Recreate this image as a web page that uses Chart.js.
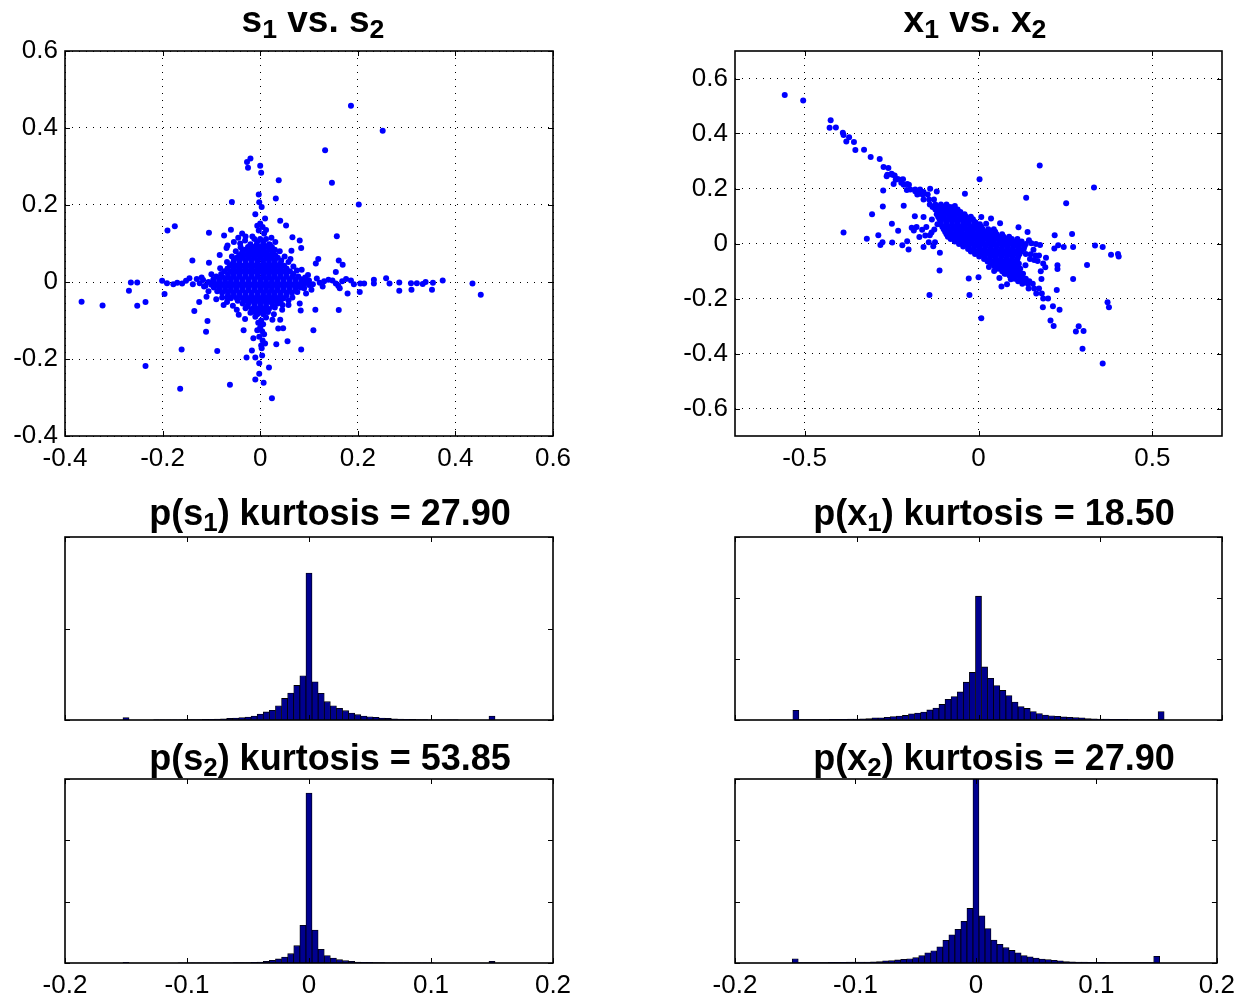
<!DOCTYPE html>
<html>
<head>
<meta charset="utf-8">
<title>Sources vs. mixtures</title>
<script src="https://cdn.jsdelivr.net/npm/chart.js@4.4.0/dist/chart.umd.min.js"></script>
<style>
  html, body { margin: 0; padding: 0; background: #fff; }
  #figure { position: relative; width: 1242px; height: 999px; overflow: hidden; font-family: "Liberation Sans", Arial, Helvetica, sans-serif; }
  #figure canvas { position: absolute; }
  .title { position: absolute; width: 600px; text-align: center; font-weight: bold; font-size: 36px; line-height: 36px; color: #000; white-space: nowrap; z-index: 2; }
  .title.top { font-size: 37px; line-height: 37px; }
  .title sub { font-size: 0.72em; vertical-align: -0.22em; line-height: 0; }
</style>
</head>
<body>
<div id="figure">
  <div class="title top" style="left:13px; top:1px">s<sub>1</sub> vs. s<sub>2</sub></div>
  <div class="title top" style="left:675px; top:1px">x<sub>1</sub> vs. x<sub>2</sub></div>
  <div class="title" style="left:30px; top:495px">p(s<sub>1</sub>) kurtosis = 27.90</div>
  <div class="title" style="left:694px; top:495px">p(x<sub>1</sub>) kurtosis = 18.50</div>
  <div class="title" style="left:30px; top:740px">p(s<sub>2</sub>) kurtosis = 53.85</div>
  <div class="title" style="left:694px; top:740px">p(x<sub>2</sub>) kurtosis = 27.90</div>

  <canvas id="scatterS" width="620" height="460" style="left:0; top:20px"></canvas>
  <canvas id="scatterX" width="582" height="460" style="left:660px; top:20px"></canvas>
  <canvas id="histS1" width="620" height="240" style="left:0; top:500px"></canvas>
  <canvas id="histX1" width="582" height="240" style="left:660px; top:500px"></canvas>
  <canvas id="histS2" width="620" height="254" style="left:0; top:745px"></canvas>
  <canvas id="histX2" width="582" height="254" style="left:660px; top:745px"></canvas>
</div>
<script>
// ---- tick positions ----
const sTicks = [-0.4, -0.2, 0, 0.2, 0.4, 0.6];
const xTicksH = [-0.5, 0, 0.5];
const xTicksV = [-0.6, -0.4, -0.2, 0, 0.2, 0.4, 0.6];
const histTicks = [-0.2, -0.1, 0, 0.1, 0.2];
const s1CountTicks = [0, 500, 1000];
const x1CountTicks = [0, 200, 400, 600];
const s2CountTicks = [0, 500, 1000, 1500];
const x2CountTicks = [0, 200, 400, 600];

// ---- histogram bins (width 0.005, tails collected in the end bins) ----
const binCentres = [
  -0.150, -0.145, -0.140, -0.135, -0.130, -0.125, -0.120, -0.115, -0.110, -0.105,
  -0.100, -0.095, -0.090, -0.085, -0.080, -0.075, -0.070, -0.065, -0.060, -0.055,
  -0.050, -0.045, -0.040, -0.035, -0.030, -0.025, -0.020, -0.015, -0.010, -0.005,
  0.000,
  0.005, 0.010, 0.015, 0.020, 0.025, 0.030, 0.035, 0.040, 0.045, 0.050,
  0.055, 0.060, 0.065, 0.070, 0.075, 0.080, 0.085, 0.090, 0.095, 0.100,
  0.105, 0.110, 0.115, 0.120, 0.125, 0.130, 0.135, 0.140, 0.145, 0.150
];

const s1Counts = [
  13, 0, 0, 0, 0, 1, 1, 1, 1, 1,
  2, 2, 2, 3, 4, 5, 6, 9, 11, 13,
  16, 22, 33, 44, 53, 78, 118, 147, 189, 242,
  803,
  209, 146, 100, 78, 64, 51, 38, 29, 22, 18,
  15, 11, 9, 7, 5, 4, 3, 2, 2, 1,
  1, 1, 1, 1, 0, 0, 0, 0, 0, 22
];

const x1Counts = [
  32, 1, 1, 1, 1, 1, 2, 2, 2, 3,
  3, 4, 5, 7, 7, 9, 11, 13, 15, 20,
  23, 26, 33, 39, 51, 68, 77, 92, 124, 156,
  406,
  174, 137, 113, 97, 80, 59, 44, 38, 28, 21,
  16, 14, 12, 10, 9, 8, 7, 5, 4, 3,
  3, 2, 2, 2, 1, 1, 1, 1, 1, 28
];

const s2Counts = [
  5, 0, 0, 0, 0, 0, 0, 0, 0, 1,
  1, 1, 1, 1, 1, 2, 2, 2, 3, 3,
  4, 6, 8, 14, 22, 33, 49, 76, 141, 307,
  1385,
  269, 111, 60, 41, 27, 19, 14, 8, 6, 5,
  4, 3, 2, 2, 2, 1, 1, 1, 1, 1,
  0, 0, 0, 0, 0, 0, 0, 0, 0, 14
];

const x2Counts = [
  14, 1, 1, 1, 1, 1, 2, 2, 2, 3,
  3, 3, 3, 4, 5, 7, 8, 10, 12, 14,
  18, 24, 33, 40, 53, 74, 92, 110, 136, 178,
  605,
  154, 112, 75, 61, 50, 41, 33, 24, 20, 16,
  13, 11, 9, 7, 5, 4, 3, 3, 2, 2,
  2, 1, 1, 1, 1, 1, 1, 1, 1, 22
];

// ---- s1 vs. s2 samples ----
const sSparse = [
  [0.186, 0.458], [0.251, 0.393], [0.133, 0.342], [0.147, 0.258], [0.202, 0.201], [0.038, 0.264], [0.032, 0.217],
  [-0.027, 0.312], [-0.020, 0.321], [-0.025, 0.297], [0.000, 0.302], [0.002, 0.284], [-0.003, 0.227], [-0.002, 0.207],
  [0.003, 0.195], [-0.010, 0.176], [-0.058, 0.208], [-0.175, 0.145], [-0.190, 0.134], [-0.105, 0.128], [-0.060, 0.136],
  [-0.074, 0.121], [-0.037, 0.126], [-0.030, 0.118], [0.041, 0.159], [0.053, 0.147], [0.066, 0.116], [0.081, 0.108],
  [0.084, 0.088], [0.157, 0.119], [0.119, 0.060], [0.114, 0.048], [0.161, 0.056], [0.169, 0.045], [0.155, 0.026],
  [0.085, 0.032], [0.064, 0.081], [0.062, 0.060], [-0.139, 0.056], [-0.105, 0.050], [-0.083, 0.070], [-0.067, 0.095],
  [-0.069, 0.088], [-0.054, 0.104], [-0.045, 0.115], [0.000, 0.152], [0.005, 0.143], [-0.003, 0.134], [0.008, 0.126],
  [0.023, 0.115], [0.020, 0.097], [0.031, 0.104], [-0.031, 0.108], [-0.041, 0.100], [-0.016, 0.118], [0.010, 0.165],
  [-0.006, 0.146], [0.012, 0.135]
];

const sLeftArm = [
  [-0.366, -0.051], [-0.323, -0.061], [-0.269, -0.023], [-0.265, -0.001], [-0.252, -0.001], [-0.252, -0.062],
  [-0.235, -0.052], [-0.235, -0.218], [-0.201, 0.003], [-0.196, -0.031], [-0.191, -0.003], [-0.178, -0.006],
  [-0.170, -0.002], [-0.160, -0.004], [-0.152, 0.003], [-0.145, 0.010], [-0.138, -0.006], [-0.130, 0.008],
  [-0.124, -0.003], [-0.117, 0.005], [-0.112, -0.010], [-0.120, 0.012], [-0.125, -0.052], [-0.135, -0.075],
  [-0.110, -0.038], [-0.106, -0.024], [-0.108, -0.101], [-0.111, -0.129], [-0.161, -0.175], [-0.164, -0.277],
  [-0.088, -0.179], [-0.062, -0.267], [-0.090, -0.045], [-0.075, -0.060], [-0.068, -0.040]
];

const sLowerArm = [
  [-0.028, -0.196], [-0.010, -0.196], [-0.017, -0.178], [-0.010, -0.253], [-0.002, -0.238], [-0.002, -0.211],
  [0.007, -0.262], [0.024, -0.302], [0.018, -0.222], [0.004, -0.191], [0.003, -0.172], [-0.014, -0.146],
  [-0.034, -0.125], [-0.031, -0.096], [-0.044, -0.085], [0.033, -0.162], [0.047, -0.120], [0.037, -0.121],
  [0.056, -0.154], [0.041, -0.098], [0.025, -0.098], [0.084, -0.175], [0.109, -0.125], [0.113, -0.072],
  [0.083, -0.074], [0.081, -0.056], [0.058, -0.060], [0.002, -0.100], [0.006, -0.110], [0.000, -0.118],
  [0.004, -0.128], [0.008, -0.136], [-0.002, -0.142], [0.005, -0.152], [0.010, -0.160], [-0.004, -0.106],
  [0.012, -0.092], [-0.010, -0.090], [0.016, -0.078], [-0.020, -0.080], [0.028, -0.084], [-0.048, -0.072],
  [0.045, -0.072], [0.002, -0.165], [-0.006, -0.125]
];

const sRightArm = [
  [0.161, -0.073], [0.163, -0.016], [0.179, -0.030], [0.204, -0.026], [0.205, -0.004], [0.213, -0.004],
  [0.233, -0.004], [0.233, 0.006], [0.258, 0.010], [0.265, -0.004], [0.285, -0.001], [0.285, -0.023],
  [0.309, -0.003], [0.310, -0.020], [0.321, -0.003], [0.333, -0.005], [0.339, 0.000], [0.352, -0.020],
  [0.354, -0.002], [0.374, 0.004], [0.435, -0.004], [0.452, -0.033], [0.100, 0.004], [0.108, -0.006],
  [0.116, 0.009], [0.122, -0.002], [0.131, 0.002], [0.140, 0.006], [0.148, 0.004], [0.155, -0.004],
  [0.168, 0.002], [0.176, 0.008], [0.186, 0.004], [0.192, -0.006], [0.105, -0.020], [0.128, -0.012],
  [0.098, 0.018], [0.094, -0.030], [0.160, -0.010]
];

// ragged edge around the dense centre
const sFringe = [
  [-0.082, 0.036], [-0.068, 0.052], [-0.058, 0.066], [-0.050, 0.080], [-0.040, 0.090], [0.040, 0.080],
  [0.050, 0.066], [0.058, 0.052], [0.068, 0.040], [0.075, 0.030], [-0.088, -0.024], [-0.078, -0.040],
  [-0.068, -0.052], [-0.056, -0.062], [0.058, -0.048], [0.066, -0.040], [0.076, -0.026], [0.090, -0.016],
  [0.046, -0.060], [-0.030, -0.068], [0.030, -0.066], [-0.100, 0.020], [0.092, 0.012], [0.100, -0.008],
  [-0.115, -0.012]
];

// dense centre, one row of s1 values per s2 level
const sCoreRows = [
  [0.112, [-0.012, 0.000, 0.012]],
  [0.105, [-0.006, 0.006]],
  [0.098, [-0.020, -0.007, 0.006, 0.018]],
  [0.091, [-0.025, -0.013, -0.001, 0.012, 0.024]],
  [0.084, [-0.031, -0.018, -0.006, 0.006, 0.019, 0.030]],
  [0.077, [-0.037, -0.024, -0.012, 0.000, 0.012, 0.025]],
  [0.070, [-0.043, -0.030, -0.018, -0.006, 0.006, 0.018, 0.031]],
  [0.063, [-0.048, -0.036, -0.024, -0.012, 0.000, 0.012, 0.024, 0.036]],
  [0.056, [-0.054, -0.042, -0.030, -0.018, -0.006, 0.006, 0.018, 0.030, 0.043]],
  [0.049, [-0.056, -0.043, -0.030, -0.018, -0.006, 0.006, 0.018, 0.030, 0.042]],
  [0.042, [-0.062, -0.049, -0.036, -0.024, -0.012, 0.000, 0.012, 0.024, 0.036, 0.049]],
  [0.035, [-0.067, -0.054, -0.042, -0.030, -0.018, -0.006, 0.006, 0.018, 0.030, 0.042, 0.054]],
  [0.028, [-0.073, -0.060, -0.048, -0.036, -0.024, -0.012, 0.000, 0.012, 0.024, 0.036, 0.048, 0.061]],
  [0.021, [-0.080, -0.066, -0.054, -0.042, -0.030, -0.018, -0.006, 0.006, 0.018, 0.030, 0.042, 0.054, 0.068]],
  [0.014, [-0.090, -0.078, -0.066, -0.054, -0.042, -0.030, -0.018, -0.006, 0.006, 0.018, 0.030, 0.042, 0.054, 0.066, 0.078]],
  [0.007, [-0.096, -0.084, -0.072, -0.060, -0.048, -0.036, -0.024, -0.012, 0.000, 0.012, 0.024, 0.036, 0.048, 0.060, 0.072, 0.084]],
  [0.000, [-0.106, -0.095, -0.084, -0.072, -0.060, -0.048, -0.036, -0.024, -0.012, 0.000, 0.012, 0.024, 0.036, 0.048, 0.060, 0.072, 0.084, 0.094]],
  [-0.007, [-0.100, -0.090, -0.078, -0.066, -0.054, -0.042, -0.030, -0.018, -0.006, 0.006, 0.018, 0.030, 0.042, 0.054, 0.066, 0.078, 0.089]],
  [-0.014, [-0.095, -0.084, -0.072, -0.060, -0.048, -0.036, -0.024, -0.012, 0.000, 0.012, 0.024, 0.036, 0.048, 0.060, 0.072, 0.083]],
  [-0.021, [-0.084, -0.072, -0.060, -0.048, -0.036, -0.024, -0.012, 0.000, 0.012, 0.024, 0.036, 0.048, 0.060, 0.072]],
  [-0.028, [-0.078, -0.066, -0.054, -0.042, -0.030, -0.018, -0.006, 0.006, 0.018, 0.030, 0.042, 0.054, 0.065]],
  [-0.035, [-0.066, -0.054, -0.042, -0.030, -0.018, -0.006, 0.006, 0.018, 0.030, 0.042, 0.054]],
  [-0.042, [-0.060, -0.048, -0.036, -0.024, -0.012, 0.000, 0.012, 0.024, 0.036, 0.048]],
  [-0.049, [-0.046, -0.030, -0.018, -0.006, 0.006, 0.018, 0.030, 0.042]],
  [-0.056, [-0.036, -0.024, -0.012, 0.000, 0.012, 0.024, 0.036]],
  [-0.063, [-0.026, -0.012, 0.000, 0.012, 0.026]],
  [-0.070, [-0.018, -0.006, 0.006, 0.018]],
  [-0.077, [-0.012, 0.000, 0.012]],
  [-0.084, [-0.006, 0.006]]
];

// ---- x1 vs. x2 samples ----
const xSparse = [
  [-0.557, 0.540], [-0.504, 0.520], [-0.425, 0.448], [-0.428, 0.421], [-0.410, 0.422], [-0.390, 0.403], [-0.388, 0.395],
  [-0.372, 0.386], [-0.380, 0.371], [-0.358, 0.369], [-0.354, 0.340], [-0.329, 0.341], [-0.310, 0.315], [-0.284, 0.307],
  [-0.273, 0.278], [-0.259, 0.275], [-0.250, 0.254], [-0.241, 0.247], [-0.264, 0.245], [-0.232, 0.235], [-0.217, 0.234],
  [-0.222, 0.221], [-0.205, 0.216], [-0.244, 0.216], [-0.274, 0.193], [-0.206, 0.195], [-0.182, 0.190], [-0.168, 0.181],
  [-0.158, 0.187], [-0.139, 0.199], [-0.120, 0.189], [-0.039, 0.181], [0.003, 0.234], [0.176, 0.284], [0.332, 0.204],
  [0.252, 0.146], [0.137, 0.166], [-0.275, 0.135], [-0.215, 0.137], [-0.306, 0.106], [-0.388, 0.040], [-0.321, 0.017],
  [-0.288, 0.030], [-0.282, -0.005], [-0.276, 0.005], [-0.248, 0.004], [-0.249, 0.072], [-0.231, 0.046], [-0.219, -0.006],
  [-0.205, 0.008], [-0.201, -0.022], [-0.192, 0.057], [-0.186, 0.047], [-0.183, 0.099], [-0.158, 0.096], [-0.162, 0.050],
  [-0.158, -0.013], [-0.153, 0.029], [-0.143, 0.005], [-0.134, 0.087], [-0.127, 0.051], [-0.125, 0.005], [-0.111, -0.034],
  [-0.112, -0.098], [-0.141, -0.187], [-0.028, -0.127], [-0.026, -0.187], [0.000, -0.123], [0.008, -0.272], [0.066, -0.156],
  [0.082, -0.148], [0.093, -0.130], [0.135, -0.079], [0.181, -0.129], [0.179, -0.101], [0.186, -0.073], [0.194, -0.052],
  [0.192, -0.086], [0.227, -0.079], [0.227, -0.093], [0.219, 0.030], [0.218, -0.018], [0.229, -0.006], [0.245, -0.013],
  [0.269, 0.035], [0.272, -0.013], [0.272, -0.129], [0.225, -0.169], [0.185, -0.232], [0.214, -0.228], [0.233, -0.241],
  [0.207, -0.280], [0.216, -0.300], [0.280, -0.320], [0.288, -0.301], [0.302, -0.318], [0.299, -0.383], [0.357, -0.436],
  [0.371, -0.214], [0.375, -0.232], [0.312, -0.078], [0.335, -0.007], [0.357, -0.013], [0.381, -0.041], [0.401, -0.038],
  [0.403, -0.047], [0.141, 0.042], [0.115, 0.059], [0.062, 0.074], [0.036, 0.091], [0.008, 0.096], [0.022, 0.072],
  [-0.008, 0.076], [-0.068, 0.136], [-0.078, 0.132], [-0.063, 0.108], [0.158, -0.023], [0.177, -0.005], [0.164, -0.044],
  [0.174, -0.044], [0.150, -0.039], [0.136, -0.038], [0.152, 0.001], [0.165, -0.002], [0.145, 0.012], [0.160, -0.060],
  [0.148, -0.056], [0.170, -0.064], [-0.170, 0.024], [-0.178, 0.060], [-0.140, 0.030], [-0.150, 0.060], [-0.118, 0.070],
  [-0.130, -0.010], [-0.135, 0.040], [0.060, -0.125], [0.075, -0.110], [0.045, -0.100], [0.030, -0.085], [0.090, -0.118]
];

// dense diagonal band, one row of x1 values per x2 level
const xCoreRows = [
  [0.250, [-0.262, -0.248]],
  [0.232, [-0.238, -0.222]],
  [0.214, [-0.215, -0.200]],
  [0.196, [-0.196, -0.182, -0.168]],
  [0.178, [-0.176, -0.160, -0.146]],
  [0.160, [-0.158, -0.142, -0.128]],
  [0.142, [-0.140, -0.124, -0.108, -0.092]],
  [0.133, [-0.132, -0.116, -0.100, -0.084]],
  [0.124, [-0.124, -0.108, -0.092, -0.076, -0.060]],
  [0.115, [-0.116, -0.100, -0.084, -0.068, -0.052]],
  [0.106, [-0.120, -0.104, -0.088, -0.072, -0.056, -0.040]],
  [0.097, [-0.116, -0.100, -0.084, -0.068, -0.052, -0.036, -0.022]],
  [0.088, [-0.112, -0.096, -0.080, -0.064, -0.048, -0.032, -0.016]],
  [0.079, [-0.108, -0.092, -0.076, -0.060, -0.044, -0.028, -0.012]],
  [0.070, [-0.108, -0.092, -0.076, -0.060, -0.044, -0.028, -0.012, 0.004]],
  [0.061, [-0.104, -0.088, -0.072, -0.056, -0.040, -0.024, -0.008, 0.008]],
  [0.052, [-0.100, -0.084, -0.068, -0.052, -0.036, -0.020, -0.004, 0.012, 0.028, 0.044]],
  [0.043, [-0.096, -0.080, -0.064, -0.048, -0.032, -0.016, 0.000, 0.016, 0.032, 0.048]],
  [0.034, [-0.092, -0.076, -0.060, -0.044, -0.028, -0.012, 0.004, 0.020, 0.036, 0.052, 0.068]],
  [0.025, [-0.088, -0.072, -0.056, -0.040, -0.024, -0.008, 0.008, 0.024, 0.040, 0.056, 0.072, 0.088]],
  [0.016, [-0.080, -0.064, -0.048, -0.032, -0.016, 0.000, 0.016, 0.032, 0.048, 0.064, 0.080, 0.096, 0.112]],
  [0.007, [-0.068, -0.052, -0.036, -0.020, -0.004, 0.012, 0.028, 0.044, 0.060, 0.076, 0.092, 0.108, 0.124]],
  [-0.002, [-0.056, -0.040, -0.024, -0.008, 0.008, 0.024, 0.040, 0.056, 0.072, 0.088, 0.104, 0.120, 0.136]],
  [-0.011, [-0.044, -0.028, -0.012, 0.004, 0.020, 0.036, 0.052, 0.068, 0.084, 0.100, 0.116, 0.132]],
  [-0.020, [-0.030, -0.014, 0.002, 0.018, 0.034, 0.050, 0.066, 0.082, 0.098, 0.114, 0.130]],
  [-0.029, [-0.022, -0.006, 0.010, 0.026, 0.042, 0.058, 0.074, 0.090, 0.106, 0.122]],
  [-0.038, [-0.010, 0.006, 0.022, 0.038, 0.054, 0.070, 0.086, 0.102, 0.118]],
  [-0.047, [0.002, 0.018, 0.034, 0.050, 0.066, 0.082, 0.098, 0.114]],
  [-0.056, [0.016, 0.032, 0.048, 0.064, 0.080, 0.096, 0.112]],
  [-0.065, [0.026, 0.042, 0.058, 0.074, 0.090, 0.106]],
  [-0.074, [0.036, 0.052, 0.068, 0.084, 0.100, 0.116]],
  [-0.083, [0.046, 0.062, 0.078, 0.094, 0.110]],
  [-0.092, [0.056, 0.072, 0.088, 0.104, 0.120]],
  [-0.101, [0.068, 0.084, 0.100, 0.116]],
  [-0.110, [0.080, 0.096, 0.112, 0.128]],
  [-0.119, [0.092, 0.108, 0.124]],
  [-0.128, [0.104, 0.120, 0.136]],
  [-0.137, [0.114, 0.130, 0.146]],
  [-0.146, [0.126, 0.142, 0.156]],
  [-0.164, [0.144, 0.160, 0.174]],
  [-0.182, [0.166, 0.182]],
  [-0.200, [0.186, 0.200]]
];

Chart.defaults.font.family = '"Liberation Sans", Arial, Helvetica, sans-serif';
Chart.defaults.color = '#000';
Chart.defaults.animation = false;
Chart.defaults.events = [];
Chart.defaults.plugins.legend.display = false;
Chart.defaults.plugins.tooltip.enabled = false;

const tickFont = { size: 26 };

function rowsToPoints(rows) {
  const out = [];
  rows.forEach(([y, xs]) => xs.forEach((x) => out.push([x, y])));
  return out;
}

function ticksFrom(list) {
  return (scale) => { scale.ticks = list.map((value) => ({ value })); };
}

// closed box with short inward ticks on all four sides
const axesBox = {
  id: 'axesBox',
  afterDraw(chart) {
    const { ctx, chartArea: a, scales } = chart;
    const len = 5;
    ctx.save();
    ctx.strokeStyle = '#000';
    ctx.lineWidth = 1;
    ctx.beginPath();
    scales.x.ticks.forEach((t) => {
      const px = Math.round(scales.x.getPixelForValue(t.value)) + 0.5;
      ctx.moveTo(px, a.bottom); ctx.lineTo(px, a.bottom - len);
      ctx.moveTo(px, a.top); ctx.lineTo(px, a.top + len);
    });
    scales.y.ticks.forEach((t) => {
      const py = Math.round(scales.y.getPixelForValue(t.value)) + 0.5;
      ctx.moveTo(a.left, py); ctx.lineTo(a.left + len, py);
      ctx.moveTo(a.right, py); ctx.lineTo(a.right - len, py);
    });
    ctx.stroke();
    ctx.lineWidth = 1.6;
    ctx.strokeRect(a.left, a.top, a.right - a.left, a.bottom - a.top);
    ctx.restore();
  }
};

// box: y axis width, space above, space right, x axis height
function makeScatter(id, points, range, xTicks, yTicks, box) {
  const dotted = { color: '#000', lineWidth: 1, drawTicks: false };
  new Chart(document.getElementById(id), {
    type: 'scatter',
    data: {
      datasets: [{
        data: points.map(([x, y]) => ({ x, y })),
        pointRadius: 3,
        pointBackgroundColor: '#0000ff',
        pointBorderWidth: 0
      }]
    },
    options: {
      responsive: false,
      layout: { padding: { left: 0, top: box.top, right: box.right, bottom: 0 } },
      scales: {
        x: {
          type: 'linear', min: range[0], max: range[1],
          afterBuildTicks: ticksFrom(xTicks),
          afterFit: (s) => { s.height = box.xh; },
          grid: dotted,
          border: { display: false, dash: [1, 6] },
          ticks: { font: tickFont, padding: 7, maxRotation: 0, autoSkip: false, callback: (v) => String(v) }
        },
        y: {
          type: 'linear', min: range[0], max: range[1],
          afterBuildTicks: ticksFrom(yTicks),
          afterFit: (s) => { s.width = box.yw; },
          grid: dotted,
          border: { display: false, dash: [1, 6] },
          ticks: { font: tickFont, padding: 7, autoSkip: false, callback: (v) => String(v) }
        }
      }
    },
    plugins: [axesBox]
  });
}

function makeHist(id, counts, countTicks, showLabels, box) {
  new Chart(document.getElementById(id), {
    type: 'bar',
    data: {
      datasets: [{
        data: binCentres.map((x, i) => ({ x, y: counts[i] })),
        backgroundColor: '#00008f',
        borderColor: '#000',
        borderWidth: 0.8,
        barPercentage: 1,
        categoryPercentage: 1,
        clip: 0
      }]
    },
    options: {
      responsive: false,
      layout: { padding: { left: 0, top: box.top, right: box.right, bottom: 0 } },
      scales: {
        x: {
          type: 'linear', offset: false, min: -0.2, max: 0.2,
          afterBuildTicks: ticksFrom(histTicks),
          afterFit: (s) => { s.height = box.xh; },
          grid: { display: false, drawTicks: false },
          border: { display: false },
          ticks: { display: showLabels, font: tickFont, padding: 7, maxRotation: 0, autoSkip: false, callback: (v) => String(v) }
        },
        y: {
          type: 'linear', min: 0, max: countTicks[countTicks.length - 1],
          afterBuildTicks: ticksFrom(countTicks),
          afterFit: (s) => { s.width = box.yw; },
          grid: { display: false, drawTicks: false },
          border: { display: false },
          ticks: { display: false }
        }
      }
    },
    plugins: [axesBox]
  });
}

const sPoints = [...sSparse, ...sLeftArm, ...sLowerArm, ...sRightArm, ...sFringe, ...rowsToPoints(sCoreRows)];
const xPoints = [...xSparse, ...rowsToPoints(xCoreRows)];

makeScatter('scatterS', sPoints, [-0.4, 0.6], sTicks, sTicks, { yw: 65, top: 31, right: 67, xh: 44 });
makeScatter('scatterX', xPoints, [-0.7, 0.7], xTicksH, xTicksV, { yw: 75, top: 31, right: 20, xh: 44 });

makeHist('histS1', s1Counts, s1CountTicks, false, { yw: 65, top: 37, right: 67, xh: 20 });
makeHist('histX1', x1Counts, x1CountTicks, false, { yw: 75, top: 37, right: 20, xh: 20 });
makeHist('histS2', s2Counts, s2CountTicks, true, { yw: 65, top: 34, right: 67, xh: 36 });
makeHist('histX2', x2Counts, x2CountTicks, true, { yw: 75, top: 34, right: 20, xh: 36 });
</script>
</body>
</html>
